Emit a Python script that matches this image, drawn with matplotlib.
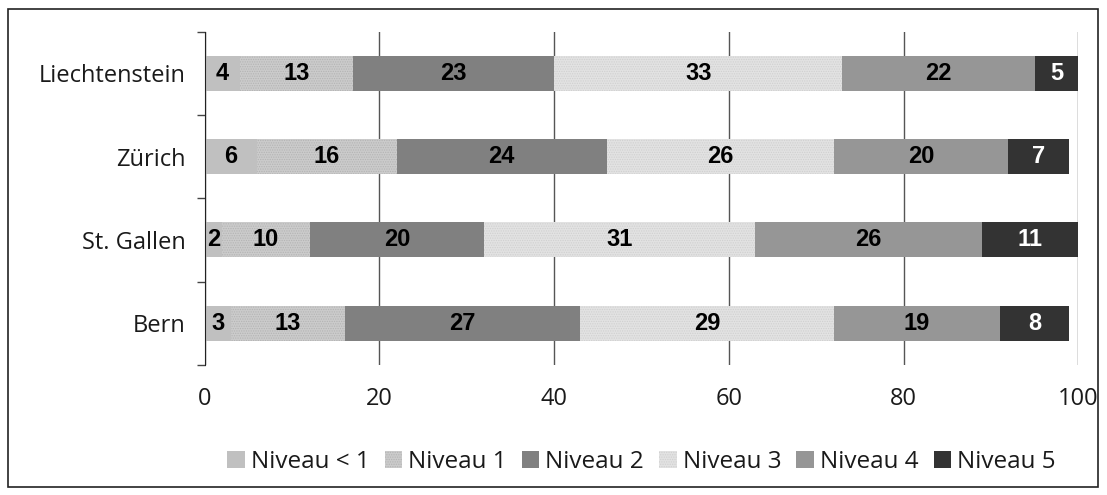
import matplotlib.pyplot as plt
import numpy as np
from matplotlib.patches import Rectangle

plt.rcParams['hatch.linewidth'] = 0.6

# Anteile der Kompetenzniveaus (in Prozent) je Kanton / Land
regionen = ['Liechtenstein', 'Zürich', 'St. Gallen', 'Bern']
niveaus = ['Niveau < 1', 'Niveau 1', 'Niveau 2', 'Niveau 3', 'Niveau 4', 'Niveau 5']
niveau_lt1 = [4, 6, 2, 3]
niveau_1 = [13, 16, 10, 13]
niveau_2 = [23, 24, 20, 27]
niveau_3 = [33, 26, 31, 29]
niveau_4 = [22, 20, 26, 19]
niveau_5 = [5, 7, 11, 8]

werte = [niveau_lt1, niveau_1, niveau_2, niveau_3, niveau_4, niveau_5]
farben = ['#c0c0c0', '#cbcbcb', '#808080', '#e2e2e2', '#969696', '#333333']
muster = [None, '.......', None, '.......', None, None]
musterfarbe = ['none', '#b4b4b4', 'none', '#d0d0d0', 'none', 'none']
textfarbe = ['black', 'black', 'black', 'black', 'black', 'white']

fig = plt.figure(figsize=(11.07, 4.95), dpi=100)
ax = fig.add_axes([0.185, 0.263, 0.789, 0.673])

# Rahmen um die ganze Grafik
fig.patches.append(Rectangle((8 / 1107, 8 / 495), 1090 / 1107, 478 / 495,
                             transform=fig.transFigure, fill=False,
                             edgecolor='#222222', linewidth=1.2))

y = np.arange(len(regionen))
links = np.zeros(len(regionen))
for i, name in enumerate(niveaus):
    v = np.array(werte[i], dtype=float)
    ax.barh(y, v, left=links, height=0.42, color=farben[i],
            hatch=muster[i], edgecolor=musterfarbe[i], linewidth=0,
            label=name, zorder=3)
    for xi, yi, wi in zip(links, y, v):
        ax.text(xi + wi / 2, yi, f'{int(wi)}', ha='center', va='center',
                fontsize=17, fontweight='bold', family='Liberation Sans',
                color=textfarbe[i], zorder=4)
    links += v

ax.set_xlim(0, 100)
ax.set_ylim(len(regionen) - 0.5, -0.5)
ax.set_xticks([0, 20, 40, 60, 80, 100])
ax.tick_params(axis='x', length=0, pad=16, labelsize=17)
ax.set_yticks(y)
ax.set_yticklabels(regionen)
ax.set_yticks(np.arange(-0.5, len(regionen)), minor=True)
ax.tick_params(axis='y', which='major', length=0, pad=14, labelsize=17)
ax.tick_params(axis='y', which='minor', length=6, color='#444444', width=1)
for lbl in ax.get_xticklabels() + ax.get_yticklabels():
    lbl.set_family('Open Sans')
    lbl.set_color('#1a1a1a')

ax.grid(axis='x', color='#555555', linewidth=1, zorder=0)
for s in ['top', 'right', 'bottom']:
    ax.spines[s].set_visible(False)
ax.spines['left'].set_color('#222222')
ax.spines['left'].set_zorder(5)

leg = ax.legend(loc='upper center', bbox_to_anchor=(0.5, -0.19), ncol=6,
                frameon=False, handlelength=0.72, handleheight=0.72,
                handletextpad=0.25, columnspacing=0.62,
                prop={'family': 'Open Sans', 'size': 17.5})
for t in leg.get_texts():
    t.set_color('#1a1a1a')

fig.savefig('out.png', dpi=100)
